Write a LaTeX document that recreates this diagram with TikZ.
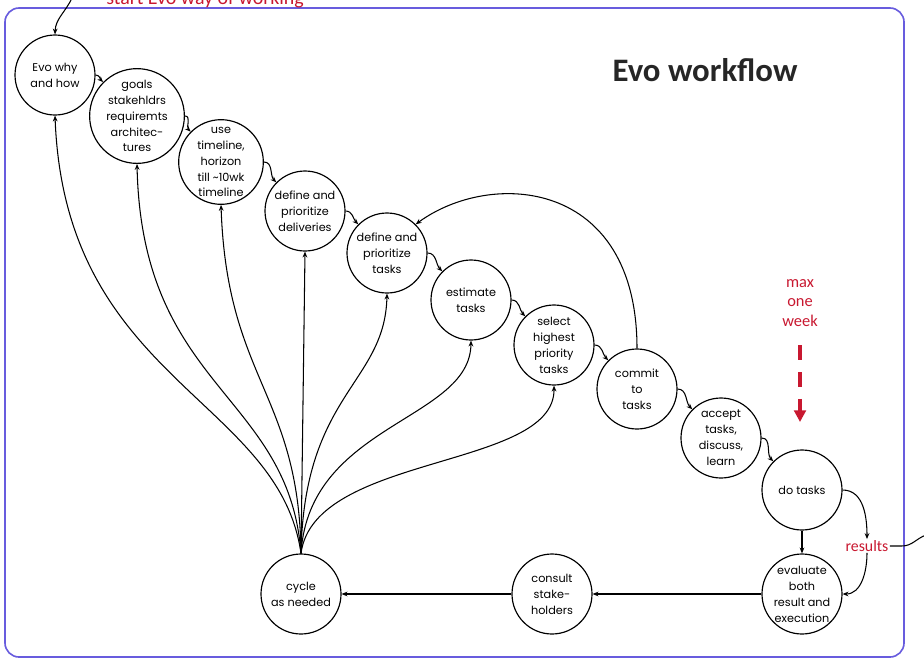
\documentclass[tikz,border=0pt]{standalone}
\usepackage{fontspec}
\setmainfont{Carlito}
\newfontfamily\stepfont{Poppins}
\usetikzlibrary{positioning}
\usetikzlibrary{arrows.meta}

\definecolor{framecol}{RGB}{104,92,222}
\definecolor{notecol}{RGB}{200,24,48}

\begin{document}
\begin{tikzpicture}[x=0.3mm, y=0.3mm,
    stepnode/.style={draw, circle, line width=1pt, minimum size=24mm, inner sep=0pt, align=center,
        font=\stepfont\fontsize{9.6}{13.6}\selectfont},
    flow/.style={-{Stealth[length=5pt,width=4pt]}, line width=0.9pt},
    note/.style={text=notecol, align=center}]

    \useasboundingbox (0,0) rectangle (924,-662);
    \draw[framecol, line width=1.4pt, rounded corners=12] (5,-8) rectangle (904,-657);

    \node[font=\bfseries\fontsize{28}{30}\selectfont, text=black!85] (title) at (705,-70) {Evo workflow};

    % the steps
    \node[stepnode] (why) at (55,-75) {Evo why\\and how};
    \node[stepnode] (goals) at (137,-116) {goals\\stakehldrs\\requiremts\\architec-\\tures};
    \node[stepnode] (timeline) at (221,-162) {use\\timeline,\\horizon\\till \textasciitilde10wk\\timeline};
    \node[stepnode] (deliveries) at (305,-211) {define and\\prioritize\\deliveries};
    \node[stepnode] (tasks) at (387,-253) {define and\\prioritize\\tasks};
    \node[stepnode] (estimate) at (471,-300) {estimate\\tasks};
    \node[stepnode] (select) at (554,-345) {select\\highest\\priority\\tasks};
    \node[stepnode] (commit) at (637,-389) {commit\\to\\tasks};
    \node[stepnode] (accept) at (721,-438) {accept\\tasks,\\discuss,\\learn};
    \node[stepnode] (do) at (802,-490) {do tasks};
    \node[stepnode] (evaluate) at (802,-594) {evaluate\\both\\result and\\execution};
    \node[stepnode] (consult) at (552,-594) {consult\\stake-\\holders};
    \node[stepnode] (cycle) at (301,-594) {cycle\\as needed};

    % notes in red
    \node[note, anchor=base, font=\fontsize{17}{18}\selectfont] (startnote) at (205,-4) {start Evo way of working};
    \node[note, font=\fontsize{14}{17}\selectfont] (week) at (800,-303) {max\\one\\week};
    \node[note, font=\fontsize{13.5}{14}\selectfont, inner sep=1pt] (results) at (867,-546) {results};
    \coordinate (entry) at (72,2);
    \coordinate (weekend) at (800,-422);
    \coordinate (resout) at (926,-535);

    \draw[flow] (entry) to[out=-115,in=88] (why.north);
    \draw[notecol, line width=4pt, dash pattern=on 13pt off 10pt, -{Triangle[width=10pt,length=10pt]}]
        (week.south) ++(0,-14) -- (weekend);

    % main sequence
    \draw[flow] (why.east) to[out=0,in=135] (goals.north west);
    \draw[flow] (goals.east) to[out=0,in=135] (timeline.north west);
    \draw[flow] (timeline.east) to[out=0,in=135] (deliveries.north west);
    \draw[flow] (deliveries.east) to[out=0,in=135] (tasks.north west);
    \draw[flow] (tasks.east) to[out=0,in=135] (estimate.north west);
    \draw[flow] (estimate.east) to[out=0,in=135] (select.north west);
    \draw[flow] (select.east) to[out=0,in=135] (commit.north west);
    \draw[flow] (commit.east) to[out=0,in=135] (accept.north west);
    \draw[flow] (accept.east) to[out=0,in=135] (do.north west);
    \draw[flow] (do) -- (evaluate);
    \draw[flow] (evaluate) -- (consult);
    \draw[flow] (consult) -- (cycle);
    \draw[flow] (commit.north) .. controls +(0,170) and +(75,55) .. (tasks.north east);

    % results
    \draw[flow] (do.east) to[out=0,in=90] (results.north);
    \draw[flow] (results.south) to[out=-90,in=0] (evaluate.east);
    \draw[line width=0.9pt] (results.east) -- ++(12,0) to[out=0,in=200] (resout);

    % cycle back
    \draw[flow] (cycle.north) .. controls +(-22,155) and +(10,-265) .. (why.south);
    \draw[flow] (cycle.north) .. controls +(-12,160) and +(5,-225) .. (goals.south);
    \draw[flow] (cycle.north) .. controls +(-2,160) and +(6,-175) .. (timeline.south);
    \draw[flow] (cycle.north) -- (deliveries.south);
    \draw[flow] (cycle.north) .. controls +(3,160) and +(-2,-90) .. (tasks.south);
    \draw[flow] (cycle.north) .. controls +(8,130) and +(-1,-80) .. (estimate.south);
    \draw[flow] (cycle.north) .. controls +(13,100) and +(1,-84) .. (select.south);
\end{tikzpicture}
\end{document}
